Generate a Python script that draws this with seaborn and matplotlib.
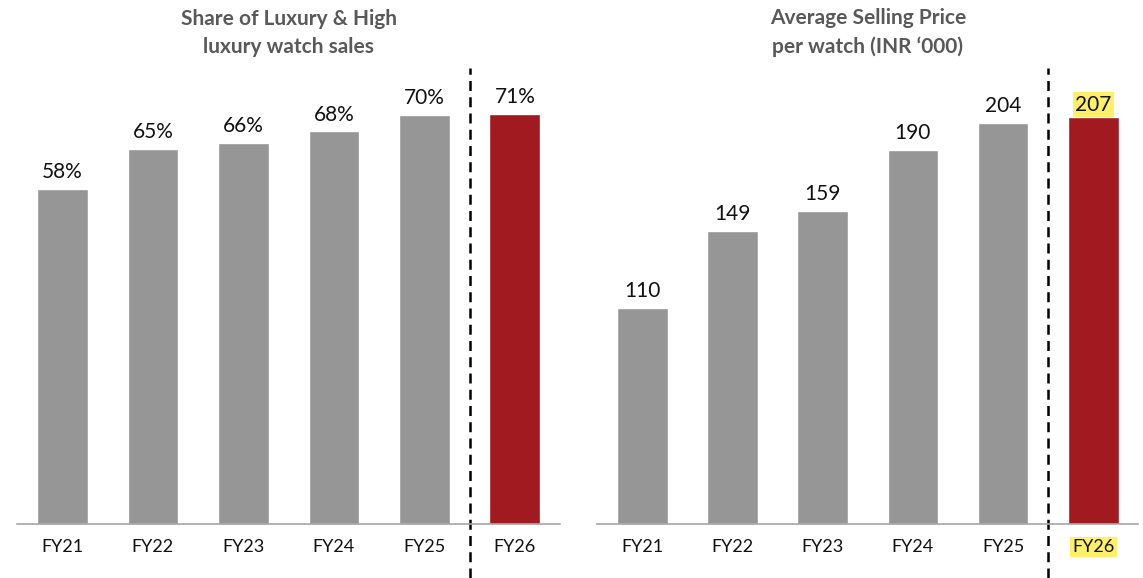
import matplotlib
matplotlib.use("Agg")
import pandas as pd
import seaborn as sns
import matplotlib.pyplot as plt
import matplotlib.transforms as mtransforms

years = ["FY21", "FY22", "FY23", "FY24", "FY25", "FY26"]
# bar heights as drawn in the source, labels as printed
share_pct = [58, 65, 66, 68, 70.8, 71]
share_labels = ["58%", "65%", "66%", "68%", "70%", "71%"]
asp_k = [110, 149, 159, 190, 204, 207]
asp_labels = ["110", "149", "159", "190", "204", "207"]

titles = ["Share of Luxury & High\nluxury watch sales",
          "Average Selling Price\nper watch (INR \u2018000)"]

grey = "#969696"
red = "#A01A1F"
yellow = "#FFF06A"
title_col = "#595959"

sns.set_theme(style="white")
plt.rcParams['font.family'] = ['Lato', 'DejaVu Sans']

fig = plt.figure(figsize=(11.43, 5.78), dpi=100)
ax1 = fig.add_axes([0.015, 0.0934, 0.475, 0.751])
ax2 = fig.add_axes([0.5225, 0.0934, 0.4735, 0.751])

palette = {y: (red if y == "FY26" else grey) for y in years}

panels = [
    (ax1, share_pct, share_labels, 75.2),
    (ax2, asp_k, asp_labels, 220.7),
]

for i, (ax, vals, labels, top) in enumerate(panels):
    df = pd.DataFrame({"year": years, "val": vals})
    sns.barplot(data=df, x="year", y="val", hue="year", palette=palette,
                order=years, width=0.56, saturation=1, legend=False, ax=ax)
    ax.set_ylim(0, top)
    ax.set_xlim(-0.5, 5.5)
    ax.set_xlabel("")
    ax.set_ylabel("")
    ax.set_yticks([])
    for s in ["left", "right", "top"]:
        ax.spines[s].set_visible(False)
    ax.spines["bottom"].set_color("#A6A6A6")
    ax.spines["bottom"].set_linewidth(1.2)
    ax.tick_params(axis="x", length=0, pad=11, labelsize=13, colors="#111111")

    # value labels, the latest ASP gets a yellow highlight
    for j, v in enumerate(vals):
        box = None
        off = 5
        if i == 1 and j == 5:
            box = dict(boxstyle="square,pad=0.12", fc=yellow, ec="none")
            off = 1.5
        ax.annotate(labels[j], (j, v), xytext=(0, off), textcoords="offset points",
                    ha="center", va="bottom", fontsize=15, color="#111111",
                    bbox=box)

    # dashed separator before the latest year
    trans = mtransforms.blended_transform_factory(ax.transData, ax.transAxes)
    ax.plot([4.5, 4.5], [-0.125, 1.05], transform=trans, color="black",
            lw=1.8, ls=(0, (4, 2.5)), clip_on=False)

    ax.text(0.5, 1.132, titles[i], transform=ax.transAxes, ha="center",
            va="center", fontsize=15, fontweight="bold", color=title_col,
            linespacing=1.5)

# highlight the FY26 tick on the right chart
for lbl in ax2.get_xticklabels():
    if lbl.get_text() == "FY26":
        lbl.set_bbox(dict(boxstyle="square,pad=0.12", fc=yellow, ec="none"))

fig.savefig("out.png", dpi=100)
plt.close()
